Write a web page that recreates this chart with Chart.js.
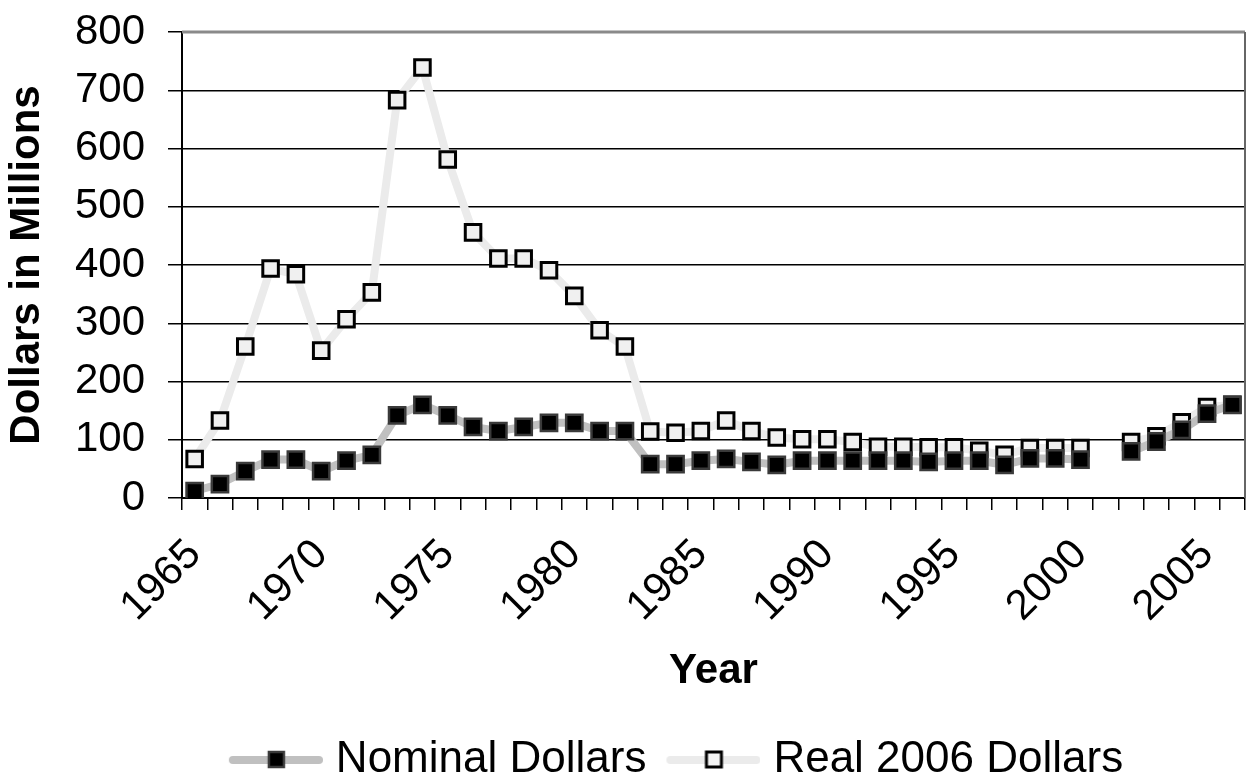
<!DOCTYPE html>
<html>
<head>
<meta charset="utf-8">
<script src="https://cdn.jsdelivr.net/npm/chart.js@4/dist/chart.umd.min.js"></script>
<style>
  html, body { margin: 0; padding: 0; background: #fff; overflow: hidden; }
</style>
</head>
<body>
<canvas id="chart" width="1259" height="792"></canvas>
<script>
const years = [1965, 1966, 1967, 1968, 1969, 1970, 1971, 1972, 1973, 1974,
               1975, 1976, 1977, 1978, 1979, 1980, 1981, 1982, 1983, 1984,
               1985, 1986, 1987, 1988, 1989, 1990, 1991, 1992, 1993, 1994,
               1995, 1996, 1997, 1998, 1999, 2000, 2001, 2002, 2003, 2004,
               2005, 2006];
const labelYears = [1965, 1970, 1975, 1980, 1985, 1990, 1995, 2000, 2005];

// Nominal dollars (millions)
const nominal = [12, 24, 46, 66, 66, 46, 64, 74, 142, 160,
                 142, 122, 115, 122, 129, 129, 115, 115, 58, 58,
                 64, 67, 62, 57, 64, 64, 64, 64, 64, 62,
                 64, 64, 57, 68, 68, 66, null, 80, 97, 117,
                 145, 160];
// Real 2006 dollars (millions)
const real2006 = [67, 133, 260, 394, 384, 253, 307, 353, 683, 739,
                  581, 456, 411, 411, 391, 347, 288, 260, 114, 112,
                  115, 133, 115, 104, 101, 101, 96, 88, 88, 87,
                  87, 81, 74, 86, 86, 86, null, 96, 106, 130,
                  156, 160];
const yTicks = [0, 100, 200, 300, 400, 500, 600, 700, 800];

const FONT = "'Liberation Sans', Arial, sans-serif";

// legend symbol: thick line with the square marker on it
function legendIcon(lineColor, fill, stroke, bw) {
    const c = document.createElement('canvas');
    c.width = 123;
    c.height = 24;
    const g = c.getContext('2d');
    g.strokeStyle = lineColor;
    g.lineWidth = 8;
    g.lineCap = 'round';
    g.beginPath();
    g.moveTo(33, 12);
    g.lineTo(119, 12);
    g.stroke();
    g.fillStyle = fill;
    g.strokeStyle = stroke;
    g.lineWidth = bw;
    g.fillRect(69, 4, 15, 15);
    g.strokeRect(69, 4, 15, 15);
    return c;
}

// gray frame on top and right of the plot area
const plotFrame = {
    id: 'plotFrame',
    beforeDatasetsDraw(chart) {
        const {ctx, chartArea: a} = chart;
        ctx.save();
        ctx.strokeStyle = '#8a8a8a';
        ctx.lineWidth = 3;
        ctx.beginPath();
        ctx.moveTo(a.left, a.top);
        ctx.lineTo(a.right, a.top);
        ctx.stroke();
        ctx.lineWidth = 2;
        ctx.strokeStyle = '#666';
        ctx.beginPath();
        ctx.moveTo(a.right, a.top);
        ctx.lineTo(a.right, a.bottom);
        ctx.stroke();
        ctx.restore();
    }
};

function noPad(s) {
    s.paddingTop = 0;
    s.paddingBottom = 0;
    s.paddingLeft = 0;
    s.paddingRight = 0;
}

const ctx = document.getElementById('chart').getContext('2d');
const chart = new Chart(ctx, {
    type: 'line',
    data: {
        labels: years.map(String),
        datasets: [{
            label: 'Nominal Dollars',
            data: nominal,
            borderColor: '#c0c0c0',
            borderWidth: 8,
            borderJoinStyle: 'round',
            pointStyle: 'rect',
            pointRadius: 11.5,
            pointBackgroundColor: '#000',
            pointBorderColor: '#3a3a3a',
            pointBorderWidth: 2.5,
            spanGaps: false,
            tension: 0,
        }, {
            label: 'Real 2006 Dollars',
            data: real2006,
            borderColor: '#ebebeb',
            borderWidth: 8,
            borderJoinStyle: 'round',
            pointStyle: 'rect',
            pointRadius: 11,
            pointBackgroundColor: '#f0f0f0',
            pointBorderColor: '#000',
            pointBorderWidth: 3,
            spanGaps: false,
            tension: 0,
        }]
    },
    options: {
        responsive: false,
        animation: false,
        events: [],
        layout: {
            padding: {top: 32, right: 2, bottom: 0, left: 75}
        },
        plugins: {
            tooltip: {enabled: false},
            legend: {
                position: 'bottom',
                labels: {
                    usePointStyle: true,
                    pointStyleWidth: 105,
                    padding: 0,
                    color: '#000',
                    font: {family: FONT, size: 44},
                    generateLabels() {
                        return [
                            {text: 'Nominal Dollars', datasetIndex: 0, lineWidth: 0,
                             pointStyle: legendIcon('#c0c0c0', '#000', '#3a3a3a', 2.5)},
                            {text: 'Real 2006 Dollars', datasetIndex: 1, lineWidth: 0,
                             pointStyle: legendIcon('#ebebeb', '#f4f4f4', '#000', 3)},
                        ];
                    }
                }
            }
        },
        scales: {
            x: {
                offset: true,
                grid: {
                    offset: true,
                    drawOnChartArea: false,
                    drawTicks: true,
                    tickLength: 12,
                    color: '#000',
                    lineWidth: 1.5,
                },
                border: {color: '#000', width: 2},
                ticks: {
                    autoSkip: false,
                    minRotation: 45,
                    maxRotation: 45,
                    padding: 20,
                    color: '#000',
                    font: {family: FONT, size: 42},
                    callback: (v, i) => labelYears.includes(years[i]) ? String(years[i]) : '',
                },
                title: {
                    display: true,
                    text: 'Year',
                    color: '#000',
                    font: {family: FONT, size: 42, weight: 'bold'},
                    padding: {top: 0, bottom: 41},
                },
                afterFit(s) { s.height = 240; noPad(s); }
            },
            y: {
                min: 0,
                max: 800,
                afterBuildTicks(s) { s.ticks = yTicks.map(v => ({value: v})); },
                grid: {
                    color: (c) => c.tick && c.tick.value === 800 ? 'rgba(0,0,0,0)' : '#000',
                    lineWidth: 1.5,
                    tickColor: '#000',
                    tickLength: 14,
                },
                border: {color: '#000', width: 2},
                ticks: {
                    padding: 23,
                    color: '#000',
                    font: {family: FONT, size: 42},
                },
                title: {
                    display: true,
                    text: 'Dollars in Millions',
                    color: '#000',
                    font: {family: FONT, size: 42, weight: 'bold'},
                    padding: {top: -73, bottom: 0},
                },
                afterFit(s) { s.width = 107; noPad(s); }
            }
        }
    },
    plugins: [plotFrame]
});
</script>
</body>
</html>
